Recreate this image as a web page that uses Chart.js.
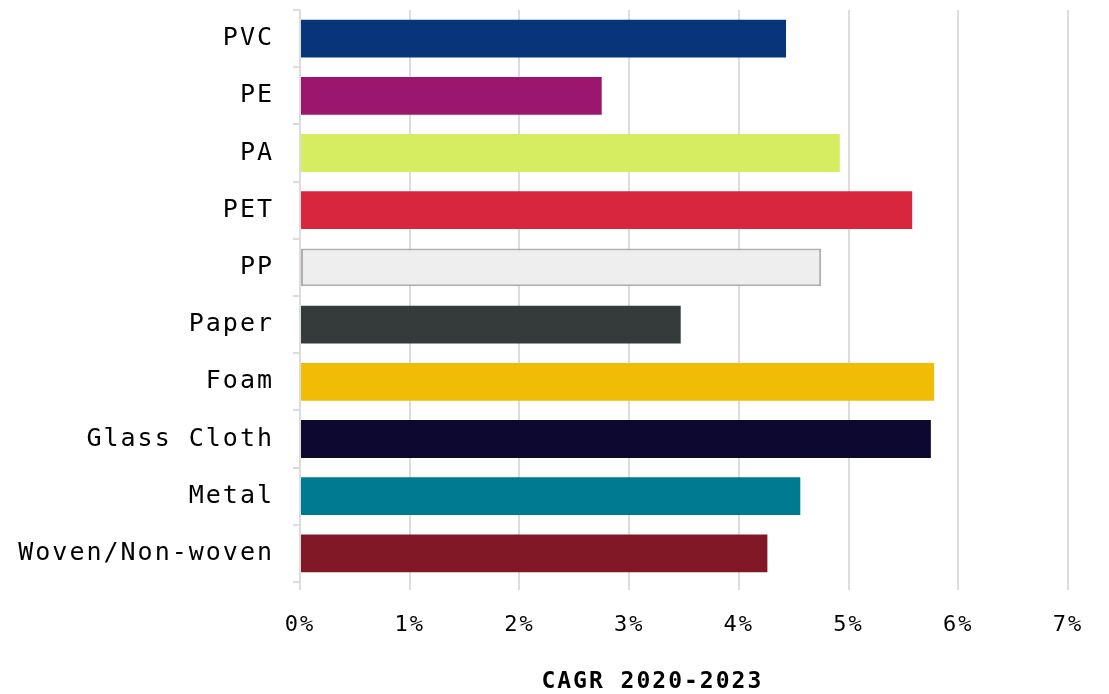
<!DOCTYPE html>
<html>
<head>
<meta charset="utf-8">
<script src="https://cdn.jsdelivr.net/npm/chart.js@4"></script>
<style>
  html, body { margin: 0; padding: 0; background: #fff; }
  #wrap { width: 1109px; height: 694px; }
</style>
</head>
<body>
<div id="wrap"><canvas id="myChart" width="1109" height="694"></canvas></div>
<script>
// categorias e valores (CAGR 2020-2023, em %)
var categorias = ['PVC', 'PE', 'PA', 'PET', 'PP', 'Paper', 'Foam', 'Glass Cloth', 'Metal', 'Woven/Non-woven'];
var valores = [4.43, 2.75, 4.92, 5.58, 4.75, 3.47, 5.78, 5.75, 4.56, 4.26];
var cores = ['#08357a', '#9b166e', '#d6ed62', '#d9263f', '#eeeeee', '#353a3a', '#f1bc06', '#0d0830', '#007a8f', '#801826'];
var bordas = ['#08357a', '#9b166e', '#d6ed62', '#d9263f', '#b3adae', '#353a3a', '#f1bc06', '#0d0830', '#007a8f', '#801826'];
var larguraBorda = [0, 0, 0, 0, 2, 0, 0, 0, 0, 0];
var ticksX = [0, 1, 2, 3, 4, 5, 6, 7];
var tituloX = 'CAGR 2020-2023';

var fonte = "'DejaVu Sans Mono', monospace";
var corGrade = '#dcdcdc';

// espaçamento entre letras, parecido com a fonte do original
var espacamento = {
  id: 'espacamento',
  beforeDraw: function (chart) { chart.ctx.letterSpacing = '2px'; }
};

var ctx = document.getElementById('myChart').getContext('2d');
var myChart = new Chart(ctx, {
  type: 'bar',
  data: {
    labels: categorias,
    datasets: [{
      data: valores,
      backgroundColor: cores,
      borderColor: bordas,
      borderWidth: larguraBorda,
      borderSkipped: false,
      categoryPercentage: 0.66,
      barPercentage: 1
    }]
  },
  options: {
    indexAxis: 'y',
    responsive: false,
    animation: false,
    layout: { padding: { top: 10, right: 41, left: 0, bottom: 0 } },
    plugins: { legend: { display: false }, tooltip: { enabled: false } },
    scales: {
      x: {
        min: ticksX[0],
        max: ticksX[ticksX.length - 1],
        afterBuildTicks: function (scale) {
          scale.ticks = ticksX.map(function (v) { return { value: v }; });
        },
        afterFit: function (scale) { scale.height = 112; },
        grid: { color: corGrade, lineWidth: 2, tickLength: 8, drawTicks: true },
        border: { display: false },
        ticks: {
          color: '#000',
          padding: 22,
          font: { family: fonte, size: 22 },
          callback: function (v) { return v + '%'; }
        },
        title: {
          display: true,
          // espaços no fim para deslocar o título um pouco para a esquerda
          text: tituloX + '    ',
          color: '#000',
          font: { family: fonte, size: 23, weight: 'bold' },
          padding: { top: 10, bottom: -2 }
        }
      },
      y: {
        afterFit: function (scale) {
          scale.width = 300;
          scale.paddingTop = 0;
          scale.paddingBottom = 0;
        },
        grid: { drawOnChartArea: false, color: corGrade, lineWidth: 2, tickLength: 7 },
        border: { display: true, color: corGrade, width: 2 },
        ticks: {
          color: '#000',
          padding: 19,
          font: { family: fonte, size: 25 }
        }
      }
    }
  },
  plugins: [espacamento]
});
</script>
</body>
</html>
